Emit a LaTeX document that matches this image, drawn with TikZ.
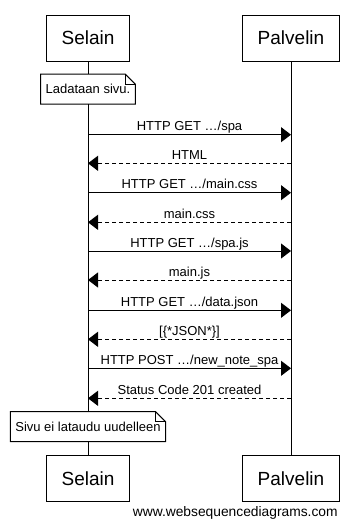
\documentclass[tikz,border=0pt]{standalone}
\usepackage{fontspec}
\setmainfont{Liberation Sans}
\usetikzlibrary{arrows.meta,calc}

\begin{document}
\begin{tikzpicture}[x=1pt,y=-1pt,line width=1pt,
 actor/.style={draw,inner xsep=15pt,minimum height=46pt,font=\fontsize{19}{23}\selectfont},
 note/.style={fill=white,inner xsep=5pt,minimum height=30pt,outer sep=0pt,font=\fontsize{13}{15}\selectfont},
 msg/.style={-{Triangle[length=10pt,width=15pt]}},
 reply/.style={msg,dash pattern=on 4pt off 3pt},
 lbl/.style={anchor=base,yshift=4pt,font=\fontsize{13}{15}\selectfont}]
\useasboundingbox (0,0) rectangle (354,525);
\node[actor] (selain) at (88,38) {Selain};
\node[actor] (palvelin) at (291,38) {Palvelin};
\node[actor] (selain2) at (88,478.3) {Selain};
\node[actor] (palvelin2) at (291,478.3) {Palvelin};
\draw (selain) -- (selain2);
\draw (palvelin) -- (palvelin2);
\node[note] (lataus) at (88,89.2) {Ladataan sivu.};
\node[note] (ei) at (88,426.7) {Sivu ei lataudu uudelleen};
\foreach \n in {lataus,ei}{
 \draw (\n.south west) |- ($(\n.north east)+(-10,0)$) -- ($(\n.north east)+(0,10)$)
  -- (\n.south east) -- cycle;
 \draw ($(\n.north east)+(-10,0)$) |- ($(\n.north east)+(0,10)$);
}
\foreach \i/\y in {1/134.7,2/163.3,3/192.7,4/222.3,5/251,6/280,7/310.3,8/339.3,9/368.3,10/398.3}{
 \coordinate (s\i) at (selain.south |- 0,\y);
 \coordinate (p\i) at (palvelin.south |- 0,\y);
}
\draw[msg] (s1) -- node[lbl] {HTTP GET \dots/spa} (p1);
\draw[reply] (p2) -- node[lbl] {HTML} (s2);
\draw[msg] (s3) -- node[lbl] {HTTP GET \dots/main.css} (p3);
\draw[reply] (p4) -- node[lbl] {main.css} (s4);
\draw[msg] (s5) -- node[lbl] {HTTP GET \dots/spa.js} (p5);
\draw[reply] (p6) -- node[lbl] {main.js} (s6);
\draw[msg] (s7) -- node[lbl] {HTTP GET \dots/data.json} (p7);
\draw[reply] (p8) -- node[lbl] {[\{*JSON*\}]} (s8);
\draw[msg] (s9) -- node[lbl] {HTTP POST \dots/new\_note\_spa} (p9);
\draw[reply] (p10) -- node[lbl] {Status Code 201 created} (s10);
\node[anchor=base east,font=\fontsize{13.8}{16}\selectfont] (wsd) at (341.5,516) {www.websequencediagrams.com};
\end{tikzpicture}
\end{document}
